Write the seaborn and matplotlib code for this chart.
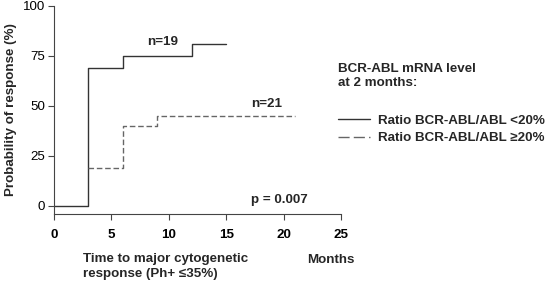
import pandas as pd
import seaborn as sns
import matplotlib.pyplot as plt
from matplotlib.lines import Line2D

# step data (months, % response)
low_months = [0, 3, 6, 12, 15]
low_resp = [0, 69, 75, 81, 81]
high_months = [3, 6, 9, 21]
high_resp = [19, 40, 45, 45]

low_name = 'Ratio BCR-ABL/ABL <20%'
high_name = 'Ratio BCR-ABL/ABL \u226520%'

df = pd.concat([
    pd.DataFrame({'Months': low_months, 'Response': low_resp, 'group': low_name}),
    pd.DataFrame({'Months': high_months, 'Response': high_resp, 'group': high_name}),
], ignore_index=True)

FS = 9.6
sns.set_style('ticks')
plt.rcParams['font.family'] = ['Liberation Sans', 'DejaVu Sans']
plt.rcParams['font.size'] = FS

fig = plt.figure(figsize=(5.5, 2.84), dpi=100)
ax = fig.add_axes([54 / 550, (284 - 213.5) / 284, 287 / 550, 207.8 / 284])

sns.lineplot(data=df, x='Months', y='Response', hue='group', style='group',
             palette={low_name: '#333333', high_name: '#666666'},
             dashes={low_name: '', high_name: (4, 2)},
             drawstyle='steps-post', estimator=None, sort=False,
             linewidth=1.0, legend=False, ax=ax)

ax.set_xlim(0, 25)
ax.set_ylim(-4, 100)
ax.set_xticks([0, 5, 10, 15, 20, 25])
ax.set_yticks([0, 25, 50, 75, 100])
ax.tick_params(axis='x', direction='out', length=4, width=0.8, colors='#444444',
               labelcolor='black', labelsize=FS, pad=7)
ax.tick_params(axis='y', direction='out', length=4, width=0.8, colors='#444444',
               labelcolor='black', labelsize=FS, pad=2.5)
for lab in ax.get_xticklabels():
    lab.set_fontweight('bold')
sns.despine(ax=ax)
for s in ['left', 'bottom']:
    ax.spines[s].set_color('#444444')
    ax.spines[s].set_linewidth(0.8)

ax.set_xlabel('')
ax.set_ylabel('Probability of response (%)', fontweight='bold', fontsize=FS)
ax.yaxis.set_label_coords(-0.13, 0.5)

ax.text(9.5, 82, 'n=19', ha='center', va='center', fontweight='bold')
ax.text(18.5, 51, 'n=21', ha='center', va='center', fontweight='bold')
ax.text(17.2, 3, 'p = 0.007', ha='left', va='center', fontweight='bold')

fig.text(83 / 550, 1 - 266.5 / 284, 'Time to major cytogenetic\nresponse (Ph+ \u226435%)',
         ha='left', va='center', fontweight='bold', fontsize=FS, linespacing=1.25)
fig.text(307 / 550, 1 - 260 / 284, 'Months', ha='left', va='center',
         fontweight='bold', fontsize=FS)

handles = [Line2D([], [], color='#333333', lw=1.0),
           Line2D([], [], color='#666666', lw=1.0, dashes=(8, 3))]
leg = ax.legend(handles, [low_name, high_name],
                title='BCR-ABL mRNA level\nat 2 months:',
                loc='upper left', bbox_to_anchor=(338 / 550, 1 - 63.5 / 284),
                bbox_transform=fig.transFigure, frameon=False, borderpad=0,
                borderaxespad=0,
                handlelength=2.4, handletextpad=0.6, labelspacing=0.4,
                alignment='left', prop={'weight': 'bold', 'size': FS},
                title_fontproperties={'weight': 'bold', 'size': FS})
leg._legend_box.sep = 18

fig.savefig('out.png', dpi=100)
